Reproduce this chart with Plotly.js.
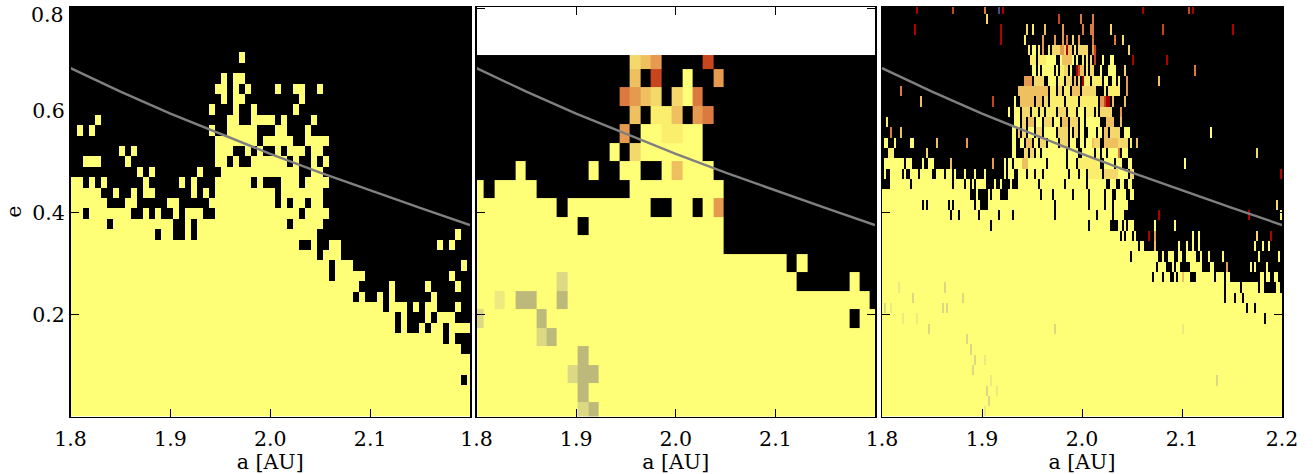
<!DOCTYPE html>
<html><head><meta charset="utf-8">
<script src="https://cdn.plot.ly/plotly-3.0.1.min.js"></script>
<style>html,body{margin:0;padding:0;background:#fff}#c{width:1313px;height:474px}</style></head>
<body><div id="c"></div>
<script>
// cell codes: "." empty, "#" full, letters = intermediate colours
const codes = ".#abcdefghijk";
const palette = ["#000000","#ffff77","#faee6c","#f4d86c","#eec060","#e59a50","#da7a3e","#c8461e","#b00000","#dcd984","#bdb97b","#ecea80","#4a4a90"];
const tickA = [1.8,1.9,2.0,2.1,2.2];
const tickE = [0.2,0.4,0.6,0.8];
const lineA = [1.8,1.85,1.9,1.95,2.0,2.05,2.1,2.15,2.2];
const lineE = [0.683,0.637,0.594,0.554,0.515,0.478,0.443,0.409,0.3755];

const panel1Rows = [
"0-66#","0-66#","0-66#","0-66#,65.","0-66#","0-66#","0-64#","0-63#,62.",
"0-66#,54.,56-57.,59.,62.","0-63#,54.,56-58.,60.","0-51#,53-55#,57#,59-60#,64#","0-46#,48#,51#,53#,60#",
"0-47#,53#,59#,64#","0-48#,43.,63#","0-46#,43.,65#","0-44#,41.","0-40#,38-39.,43-44#,61#,63#",
"0-40#,14.,17-18.,20.,64#","0-41#,6.,17-18.,20.,36.","0-42#,2.,10-11.,13.,15-16.,18.,22-23.,38.",
"0-5#,9-10#,16-17#,23-33#,35#,37-38#,40-41#","0-4#,7#,10#,12-13#,20#,22#,24-33#,35-41#",
"0-1#,3#,5#,12#,18#,20#,24-29#,31#,35-37#,39-42#","11#,13#,21#,25-37#,40-41#",
"2-4#,9#,24-25#,27#,30-35#,37#,40#,42#","8#,10#,24-26#,29#,31#,34#,36-38#,40-41#",
"24-30#,32-36#,39-42#","1#,3#,23#,26-30#,34-35#,39#","4#,26-27#,30-33#,35#,40#","23#,27#,30#,37#",
"25#,27-28#,38#","24-25#,27#,29#,34#,37-38#,41#","25#,27-28#","","28#","","","","",""];

const panel2Rows = [
"0-38#,10h,11i","0-38#,10i","0-38#,9h,10i,11i","0-38#,10i","0-38#,6h,7i","0-38#,0h,6i,36.",
"0-37#,2j,4-5i,8i","0-30#,8h,36#","0-29#,31#","0-23#","0-23#,10.","0-22#,8.,17-18.,21.,23d",
"0#,2-5#,15-23#","4#,11#,14-15#,18#,19c,20-22#","13#,15b,16-21#","14d,16-17#,18a,19a,20-21#",
"15c,17a,18a,19c,21d,22e","14e,15d,16c,17b,19b,20#,21e","15c,17f,20#,23d","15b,16c,17d,22f"];

const panel3Rows = [
"0-200#,51j","0-200#,53h","0-200#,52h,57j","0-200#,54j,167h","0-200#,45h","0-200#,46h,51j","0-200#,44h","0-200#,42h",
"0-200#,23h,86h,150j","0-200#,10j,17j,191.","0-200#,1h,4j,30h,32h,182.,186.","0-200#,15h,40h,171.,176.,180.",
"0-200#,8j,31h,171.,179.,188.,191-196.,199.",
"0-200#,135.,140.,144-145.,147.,150c,154-156.,166.,171.,174-187.,188.,191.,194-195.,198-199.",
"0-200#,137.,142-144.,146.,149-153.,160-163.,166-171.,172d,173-183.,185.,187-191.,193-200.",
"0-137#,124.,140#,143-145#,148-149#,152-156#,159#,163#,170#,188#,198#",
"0-127#,128-128.,129-130#,136c,148#,152#,155#,158#,186#,190#,193#",
"0-126#,119.,121.,125.,133g,136d,155#,158#,187b,194g",
"0-125#,54.,103.,114-117.,120.,122.,136#,146#",
"0-124#,34.,38.,48.,58.,65.,86.,107.,115.,121-124.,138g,183g,199#",
"0-122#,20.,22.,33.,35.,46.,49-52.,86.,103.,111.,115.,197b",
"0-125#,44-46.,48-52.,54.,59-62.,79.,85.,95.,103.,111.,115-116.,122-123.",
"0-124#,0-3.,14.,35.,41.,44.,46.,52-55.,57-58.,60-63.,65-67.,78.,91.,102.,112-113.,117-118.,121-122.",
"1#,4-9#,11#,14-17#,19-24#,27-30#,32-34#,36#,41#,46#,51#,61#,63-65#,68-71#,73-101#,76.,80.,93.,98.,103-109a,111-117b,118-122#,124-125b,199g",
"1-10#,12-14#,20#,23-25#,34c,55d,61#,63-64#,66-69#,70-72c,73-81#,83-91#,93-96#,98-108a,111-115#,117-119#,123-124#,151#",
"3-5a,22b,65-66#,71-72b,74-75b,77-78#,80-91#,93-97#,100-105#,107-108#,110-111#,113-117#,118e,120-122#,187b",
"1-2#,6#,14-15#,27c,42d,65-66#,69-70#,72-74c,76-77#,79-81b,83-87#,89-92b,94-96#,99-100#,102-104#,105c,106-108b,111-117c,118-122b,124a,127c",
"4e,9c,65-66#,68c,70-71b,73-75#,77-79b,81-86#,88-92b,94#,96-97b,99-100#,103-106#,108-109#,111-112c,114-118b,121-123#,164#",
"2a,66-68#,70-71b,73-75c,77-79#,81-84b,86-88#,90-92c,94-97b,99-100#,102-108#,112-115c,119c",
"63#,66-68#,70-73b,75-77a,79-80a,82-86a,88-91b,93-96a,98-100#,102-105a,107a,109-114b,119d",
"19c,55f,66#,69-75c,77-79c,81-82b,84-90a,92-97a,99-107a,109-110d,111f,112-113g,115c,121c",
"9e,68-82c,84-86a,88-89b,91-93a,95-98c,100-106b,111a,113-118a,122d",
"71-74d,76-80b,83-86#,88-90a,92-94b,96c,98b,100g,101-103a,105a,106-109a,111-112#,115-116#,118#,122d,138c",
"75-76#,78#,80-81#,82-85#,87#,89-90a,91-92b,94#,97g,98f,99-100c,102a,104b,105b,109#,113-116#,121b,156e",
"74-76a,78-81a,82-86#,89#,90-94c,95#,97#,100a,102a,104b,106f,110#,114-115#,125g,142g",
"73a,75-76#,78a,80d,83a,85-88b,89-90d,91b,92g,93-94c,96a,98-102b,105d,106f,123b",
"59g,71a,80d,86d,90d,92e,95b,98d,105e,116e,120b","16g,59g,72b,75a,81c,90d,100e,104-105e,114b,140f,175g",
"52b,88f,99e,105e","17g,35f,51e,58k,60g,130g,153f,155g"];

const nCols1 = 67, nCols2 = 39, nCols3 = 200;
function grid(rows, nCols){
  return rows.map(function(spec){
    const line = new Array(nCols).fill(0);
    spec.split(",").filter(Boolean).forEach(function(t){
      const m = t.match(/^(\d+)(?:-(\d+))?(.)$/);
      const a = +m[1], b = m[2] ? +m[2] : a, v = codes.indexOf(m[3]);
      for(let c=a;c<=b && c<nCols;c++) line[c]=v;
    });
    return line;
  });
}
const cs = palette.map(function(col,i){return [i/(palette.length-1),col];});
const hm = {type:"heatmap",colorscale:cs,zmin:0,zmax:palette.length-1,showscale:false,hoverinfo:"skip",zsmooth:false};
const p2dy=0.03628, p2y0=-0.00745, p2top=0.7088;
const p2edges=panel2Rows.map(function(_,i){return p2y0+i*p2dy;}); p2edges.push(p2top);

const traces=[
 Object.assign({},hm,{z:grid(panel1Rows,nCols1),x0:1.803,dx:0.006,y0:0.0102,dy:0.0204,xaxis:"x",yaxis:"y"}),
 Object.assign({},hm,{z:grid(panel2Rows,nCols2),x0:1.80234,dx:0.01047,y:p2edges,xaxis:"x2",yaxis:"y2"}),
 Object.assign({},hm,{z:grid(panel3Rows,nCols3),x0:1.801,dx:0.002,y0:0.00953,dy:0.02026,xaxis:"x3",yaxis:"y3"})
];
["x","x2","x3"].forEach(function(ax,i){
  traces.push({type:"scatter",mode:"lines",x:lineA,y:lineE,xaxis:ax,yaxis:["y","y2","y3"][i],line:{color:"#808080",width:2.4},hoverinfo:"skip",showlegend:false});
});
const W=1313,H=474, font={family:"DejaVu Serif",size:20.5,color:"#000"};
const yDom=[1-416.5/H,1-7/H];
function xa(l,r,ticks,anchor){return {domain:[l/W,r/W],range:[1.8,2.2],tickvals:ticks,ticktext:ticks.map(function(v){return v.toFixed(1);}),
  ticks:"inside",ticklen:8,tickwidth:1,tickcolor:"#000",mirror:"allticks",showline:true,linecolor:"#000",linewidth:1.5,showgrid:false,zeroline:false,
  tickfont:font,ticklabelstandoff:3,anchor:anchor,title:{text:"a [AU]",font:font,standoff:2},automargin:false};}
function ya(labels,anchor){return {domain:yDom,range:[0,0.803],tickvals:tickE,ticktext:["0.2","0.4","0.6",""],showticklabels:labels,
  ticks:"inside",ticklen:8,tickwidth:1,tickcolor:"#000",mirror:"allticks",showline:true,linecolor:"#000",linewidth:1.5,showgrid:false,zeroline:false,
  tickfont:font,anchor:anchor,automargin:false};}
const layout={width:W,height:H,margin:{l:0,r:0,t:0,b:0},paper_bgcolor:"#fff",plot_bgcolor:"#fff",showlegend:false,
  xaxis:xa(70.5,470,tickA.slice(0,4),"y"),xaxis2:xa(476.5,875,tickA.slice(0,4),"y2"),xaxis3:xa(882,1282,tickA,"y3"),
  yaxis:Object.assign(ya(true,"x"),{title:{text:"e",font:font,standoff:5}}),yaxis2:ya(false,"x2"),yaxis3:ya(false,"x3"),
  annotations:[{text:"0.8",xref:"paper",yref:"paper",x:65.5/W,y:1-15/H,xanchor:"right",yanchor:"middle",showarrow:false,font:font}]};
Plotly.newPlot("c",traces,layout,{staticPlot:true,displayModeBar:false});
</script></body></html>
